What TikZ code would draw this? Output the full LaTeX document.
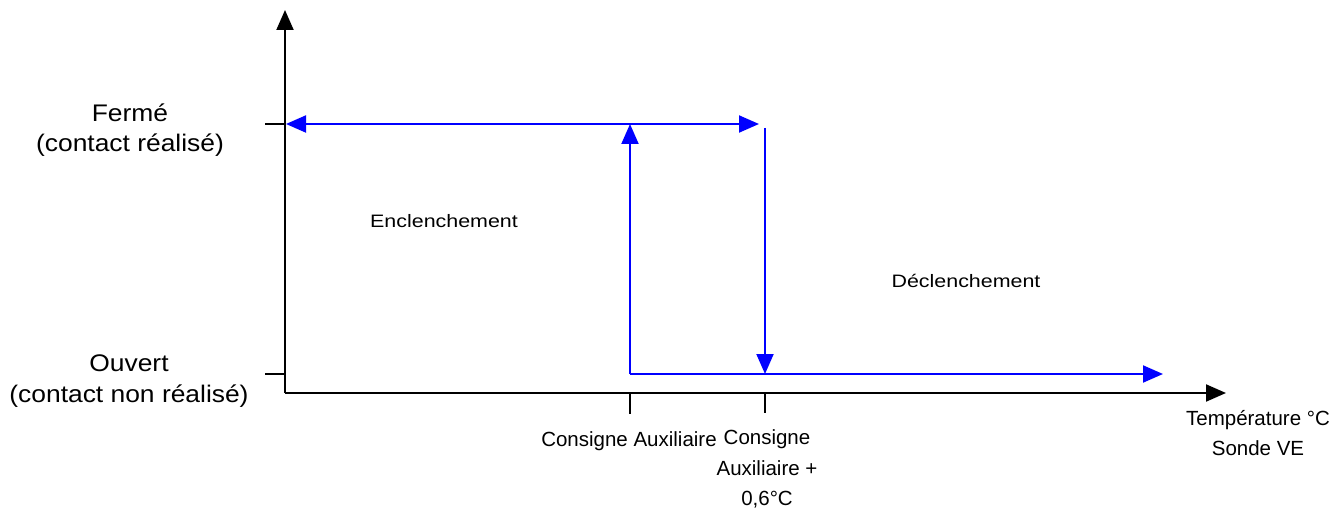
\documentclass[tikz,border=0pt]{standalone}
\usepackage{fontspec}
\setmainfont{Liberation Sans}
\newfontfamily\leftfont{Liberation Sans}[FakeStretch=1.1]
\newfontfamily\smallfont{Liberation Sans}[FakeStretch=1.19]
\usetikzlibrary{arrows.meta}
\begin{document}
\begin{tikzpicture}[x=1pt,y=-1pt,
  >={Triangle[length=20pt,width=17pt]},
  axis/.style={line width=2pt,black},
  blueline/.style={line width=2pt,blue},
  leftlbl/.style={font=\leftfont\fontsize{24}{30.5}\selectfont,align=center,inner sep=0pt},
  lbl/.style={font=\fontsize{20.5}{30.5}\selectfont,align=center,inner sep=0pt},
  slbl/.style={font=\smallfont\fontsize{18}{20}\selectfont,inner sep=0pt}]
\useasboundingbox (0,0) rectangle (1332,510);
% axes
\coordinate (O) at (285,393);
\coordinate (Ytop) at (285,10);
\coordinate (Xend) at (1226,393);
\draw[axis,->] (O) -- (Ytop);
\draw[axis,->] (O) -- (Xend);
% y ticks
\coordinate (yt1a) at (265,124); \coordinate (yt1b) at (285,124);
\coordinate (yt2a) at (265,374); \coordinate (yt2b) at (285,374);
\draw[line width=1.3pt] (yt1a) -- (yt1b);
\draw[line width=1.3pt] (yt2a) -- (yt2b);
% x ticks
\coordinate (xt1a) at (630,393); \coordinate (xt1b) at (630,414);
\coordinate (xt2a) at (765,393); \coordinate (xt2b) at (765,413);
\draw[line width=1.6pt] (xt1a) -- (xt1b);
\draw[line width=1.6pt] (xt2a) -- (xt2b);
% blue hysteresis
\coordinate (hl) at (286,124); \coordinate (hr) at (759,124);
\coordinate (ub) at (630,374); \coordinate (ut) at (630,124);
\coordinate (dt) at (765,128); \coordinate (db) at (765,374);
\coordinate (br) at (1163,374);
\draw[blueline,<->] (hl) -- (hr);
\draw[blueline,->] (ub) -- (ut);
\draw[blueline,->] (dt) -- (db);
\draw[blueline,->] (ub) -- (br);
% labels
\node[leftlbl] (ferme) at (130,130) {Fermé\\(contact réalisé)};
\node[leftlbl] (ouvert) at (129,381) {Ouvert\\(contact non réalisé)};
\node[lbl] (cons1) at (629,441) {Consigne Auxiliaire};
\node[lbl] (cons2) at (767,469) {Consigne\\Auxiliaire +\\0,6°C};
\node[lbl] (temp) at (1258,433) {Température °C\\Sonde VE};
\node[slbl] (encl) at (444,221) {Enclenchement};
\node[slbl] (decl) at (966,281) {Déclenchement};
\end{tikzpicture}
\end{document}
